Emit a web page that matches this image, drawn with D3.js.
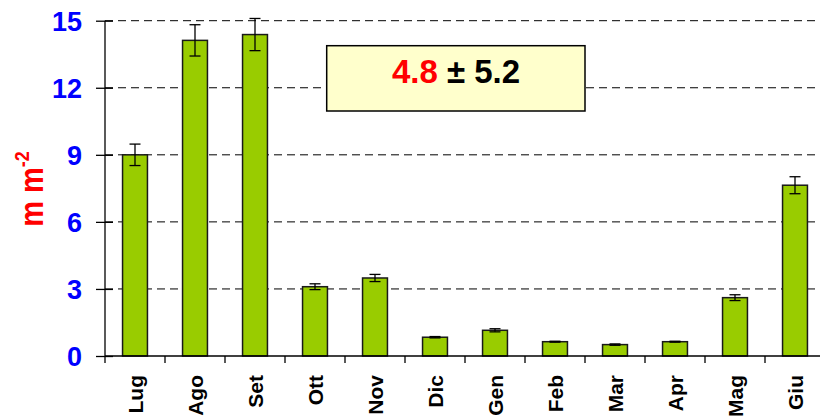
<!DOCTYPE html>
<html>
<head>
<meta charset="utf-8">
<style>
  body { margin: 0; background: #fff; }
  svg { display: block; font-family: Arial, "Liberation Sans", sans-serif; }
  .grid line { stroke: #000; stroke-dasharray: 8,5; stroke-width: 1; }
  .bar { fill: #99cc00; stroke: #1a1a1a; stroke-width: 1.5; }
  .err { stroke: #000; stroke-width: 1.3; fill: none; }
</style>
</head>
<body>
<svg width="820" height="418"></svg>
<script src="https://d3js.org/d3.v7.min.js"></script>
<script>
// monthly values (m m-2) and standard errors
const months = ["Lug", "Ago", "Set", "Ott", "Nov", "Dic", "Gen", "Feb", "Mar", "Apr", "Mag", "Giu"];
const values = [9.0, 14.12, 14.38, 3.10, 3.49, 0.84, 1.15, 0.64, 0.51, 0.64, 2.61, 7.64];
const errors = [0.48, 0.70, 0.72, 0.13, 0.16, 0.03, 0.07, 0.02, 0.03, 0.02, 0.13, 0.38];
const yTicks = [0, 3, 6, 9, 12, 15];
const meanText = "4.8";
const sdText = "± 5.2";

const svg = d3.select("svg");
const plotL = 105, plotR = 825, plotT = 20.7, plotB = 356;

const x = d3.scaleBand().domain(months).range([plotL, plotR]).paddingInner(0.585).paddingOuter(0.2925);
const band = d3.scaleBand().domain(months).range([plotL, plotR]);
const y = d3.scaleLinear().domain([0, 15]).range([plotB, plotT]);

// dashed gridlines
svg.append("g").attr("class", "grid")
  .selectAll("line").data(yTicks.filter(d => d > 0)).join("line")
    .attr("x1", plotL).attr("x2", 820)
    .attr("y1", d => y(d)).attr("y2", d => y(d));

// summary box
svg.append("rect")
  .attr("x", 326.7).attr("y", 45.7).attr("width", 258.3).attr("height", 65.3)
  .attr("fill", "#ffffcc").attr("stroke", "#000").attr("stroke-width", 1.5);
const t = svg.append("text")
  .attr("x", 456).attr("y", 83.3).attr("text-anchor", "middle")
  .attr("font-size", 33).attr("font-weight", "bold");
t.append("tspan").attr("fill", "#ff0000").text(meanText);
t.append("tspan").attr("fill", "#000").text(" " + sdText);

// bars
svg.append("g").selectAll("rect").data(months).join("rect")
  .attr("class", "bar")
  .attr("x", d => x(d))
  .attr("width", x.bandwidth())
  .attr("y", (d, i) => y(values[i]))
  .attr("height", (d, i) => y(0) - y(values[i]));

// error bars
const eg = svg.append("g");
months.forEach((m, i) => {
  const cx = x(m) + x.bandwidth() / 2;
  const hi = y(values[i] + errors[i]), lo = y(values[i] - errors[i]);
  eg.append("line").attr("class", "err").attr("x1", cx).attr("x2", cx).attr("y1", hi).attr("y2", lo);
  eg.append("line").attr("class", "err").attr("x1", cx - 5.5).attr("x2", cx + 5.5).attr("y1", hi).attr("y2", hi);
  eg.append("line").attr("class", "err").attr("x1", cx - 5.5).attr("x2", cx + 5.5).attr("y1", lo).attr("y2", lo);
});

// y axis
const yAxis = svg.append("g").attr("transform", `translate(${plotL},0)`)
  .call(d3.axisLeft(y).tickValues(yTicks).tickSizeOuter(0).tickPadding(0));
yAxis.select(".domain").remove();
yAxis.selectAll(".tick line").attr("x1", -9).attr("x2", 8).attr("stroke", "#000").attr("stroke-width", 1.3);
yAxis.selectAll(".tick text")
  .attr("x", -23).attr("dy", "0.36em")
  .attr("fill", "#0000ff").attr("font-size", 27).attr("font-weight", "bold")
  .attr("font-family", "Arial, 'Liberation Sans', sans-serif");
svg.append("line").attr("x1", plotL).attr("x2", plotL).attr("y1", plotT).attr("y2", plotB + 7)
  .attr("stroke", "#000").attr("stroke-width", 1.3);

// x axis line and separator ticks
svg.append("line").attr("x1", plotL).attr("x2", 820).attr("y1", plotB).attr("y2", plotB)
  .attr("stroke", "#000").attr("stroke-width", 1.3);
svg.append("g").selectAll("line").data(months.slice(1)).join("line")
  .attr("x1", d => band(d)).attr("x2", d => band(d))
  .attr("y1", plotB).attr("y2", plotB + 7)
  .attr("stroke", "#000").attr("stroke-width", 1.3);

// x labels
svg.append("g").selectAll("text").data(months).join("text")
  .attr("transform", d => `translate(${x(d) + x.bandwidth() / 2 + 8},375) rotate(-90)`)
  .attr("text-anchor", "end")
  .attr("font-size", 21).attr("font-weight", "bold").attr("fill", "#000")
  .text(d => d);

// y title
const yt = svg.append("text")
  .attr("transform", "translate(43,189) rotate(-90) scale(1,1.15)")
  .attr("text-anchor", "middle")
  .attr("fill", "#ff0000").attr("font-size", 29).attr("font-weight", "bold");
yt.append("tspan").text("m m");
yt.append("tspan").attr("dy", -12).attr("font-size", 18).text("-2");
</script>
</body>
</html>
